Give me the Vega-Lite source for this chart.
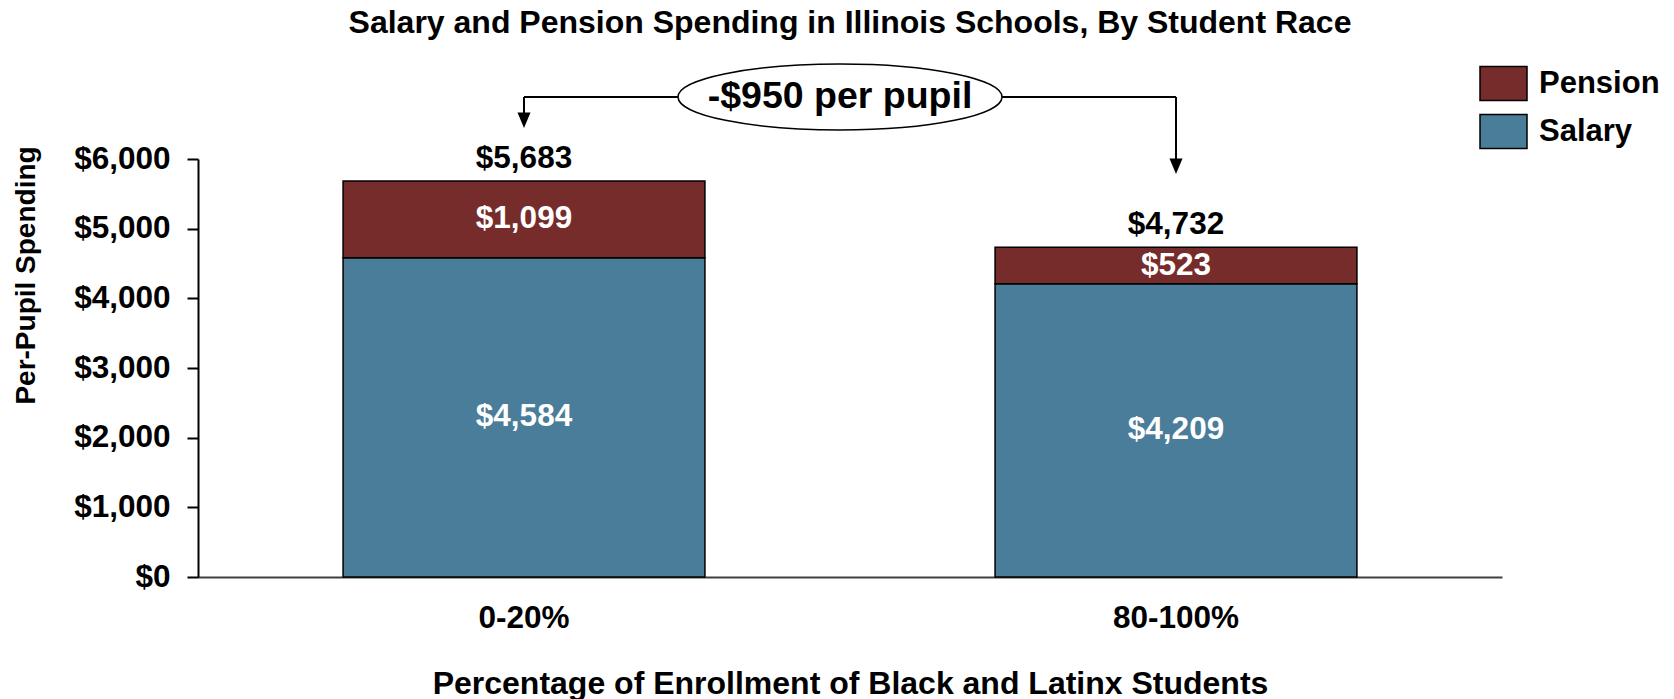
{
  "$schema": "https://vega.github.io/schema/vega-lite/v6.json",
  "width": 1304,
  "height": 418,
  "autosize": {"type": "none"},
  "padding": {"left": 198, "top": 159, "right": 172, "bottom": 122},
  "background": "white",
  "config": {
    "view": {"stroke": null},
    "font": "Liberation Sans",
    "axis": {"labelFont": "Liberation Sans", "titleFont": "Liberation Sans", "labelFontWeight": "bold", "titleFontWeight": "bold", "labelColor": "black", "titleColor": "black"},
    "legend": {"labelFont": "Liberation Sans"}
  },
  "title": {
    "text": "Salary and Pension Spending in Illinois Schools, By Student Race",
    "font": "Liberation Sans",
    "fontSize": 32,
    "fontWeight": "bold",
    "color": "black",
    "anchor": "middle",
    "offset": 19
  },
  "datasets": {
    "spending": [
      {"group": "0-20%", "component": "Salary", "value": 4584},
      {"group": "0-20%", "component": "Pension", "value": 1099},
      {"group": "80-100%", "component": "Salary", "value": 4209},
      {"group": "80-100%", "component": "Pension", "value": 523}
    ],
    "totals": [
      {"group": "0-20%", "total": 5683},
      {"group": "80-100%", "total": 4732}
    ],
    "segments": [
      {"x": 0.5, "x2": 0.7362, "y": 6890, "y2": 6890},
      {"x": 1.2331, "x2": 1.5, "y": 6890, "y2": 6890},
      {"x": 0.5, "x2": 0.5, "y": 6890, "y2": 6600},
      {"x": 1.5, "x2": 1.5, "y": 6890, "y2": 5950}
    ],
    "arrowheads": [
      {"x": 0.5, "y": 6445},
      {"x": 1.5, "y": 5785}
    ],
    "callout": [
      {"x": 0.9847, "y": 6890, "label": "-$950 per pupil"}
    ]
  },
  "resolve": {"scale": {"x": "independent"}},
  "layer": [
    {
      "layer": [
        {
          "data": {"name": "spending"},
          "mark": {"type": "bar", "stroke": "black", "strokeWidth": 1.5},
          "encoding": {
            "x": {
              "field": "group", "type": "nominal",
              "scale": {"paddingInner": 0.445, "paddingOuter": 0.2225},
              "axis": {
                "title": "Percentage of Enrollment of Black and Latinx Students",
                "labelAngle": 0, "ticks": false, "tickSize": 0,
                "domainColor": "#404040", "domainWidth": 2,
                "labelFontSize": 31.5, "labelPadding": 25,
                "titleFontSize": 32, "titleY": 116, "titleBaseline": "alphabetic"
              }
            },
            "y": {
              "field": "value", "type": "quantitative", "stack": "zero",
              "scale": {"domain": [0, 6000], "nice": false},
              "axis": {
                "title": "Per-Pupil Spending",
                "format": "$,.0f",
                "values": [0, 1000, 2000, 3000, 4000, 5000, 6000],
                "grid": false,
                "domainColor": "black", "domainWidth": 2,
                "tickColor": "black", "tickWidth": 2, "tickSize": 11,
                "labelFontSize": 31.5, "labelPadding": 17,
                "titleFontSize": 28, "titleAngle": -90,
                "titleX": -164, "titleY": 116, "titleBaseline": "alphabetic", "titleAlign": "center"
              }
            },
            "color": {
              "field": "component", "type": "nominal",
              "scale": {"domain": ["Pension", "Salary"], "range": ["#772C2C", "#4A7D9A"]},
              "legend": {
                "title": null,
                "orient": "none",
                "legendX": 1281,
                "legendY": -100,
                "symbolType": "M-1,-0.72H1V0.72H-1Z",
                "symbolSize": 2209,
                "symbolStrokeColor": "black",
                "symbolStrokeWidth": 1.5,
                "symbolOpacity": 1,
                "labelFontSize": 31,
                "labelFontWeight": "bold",
                "labelColor": "black",
                "labelOffset": 11,
                "rowPadding": 3
              }
            },
            "order": {"field": "component", "sort": "descending"}
          }
        },
        {
          "data": {"name": "spending"},
          "transform": [
            {"stack": "value", "groupby": ["group"], "sort": [{"field": "component", "order": "descending"}], "as": ["v0", "v1"]},
            {"calculate": "(datum.v0 + datum.v1) / 2", "as": "mid"}
          ],
          "mark": {"type": "text", "color": "white", "fontSize": 31.5, "fontWeight": "bold", "font": "Liberation Sans", "baseline": "middle"},
          "encoding": {
            "x": {"field": "group", "type": "nominal"},
            "y": {"field": "mid", "type": "quantitative"},
            "text": {"field": "value", "type": "quantitative", "format": "$,.0f"}
          }
        },
        {
          "data": {"name": "totals"},
          "mark": {"type": "text", "color": "black", "fontSize": 31.5, "fontWeight": "bold", "font": "Liberation Sans", "baseline": "alphabetic", "dy": -13},
          "encoding": {
            "x": {"field": "group", "type": "nominal"},
            "y": {"field": "total", "type": "quantitative"},
            "text": {"field": "total", "type": "quantitative", "format": "$,.0f"}
          }
        }
      ]
    },
    {
      "layer": [
        {
          "data": {"name": "segments"},
          "mark": {"type": "rule", "color": "black", "strokeWidth": 2},
          "encoding": {
            "x": {"field": "x", "type": "quantitative", "scale": {"domain": [0, 2], "nice": false, "zero": false}, "axis": null},
            "x2": {"field": "x2"},
            "y": {"field": "y", "type": "quantitative"},
            "y2": {"field": "y2"}
          }
        },
        {
          "data": {"name": "arrowheads"},
          "mark": {"type": "point", "shape": "M0,0L-0.5,-1.2L0.5,-1.2Z", "size": 676, "filled": true, "color": "black", "opacity": 1},
          "encoding": {
            "x": {"field": "x", "type": "quantitative"},
            "y": {"field": "y", "type": "quantitative"}
          }
        },
        {
          "data": {"name": "callout"},
          "mark": {"type": "point", "shape": "M-1,0A1,0.2037,0,1,1,1,0A1,0.2037,0,1,1,-1,0Z", "size": 104976, "filled": true, "fill": "white", "stroke": "black", "strokeWidth": 1.5, "opacity": 1},
          "encoding": {
            "x": {"field": "x", "type": "quantitative"},
            "y": {"field": "y", "type": "quantitative"}
          }
        },
        {
          "data": {"name": "callout"},
          "mark": {"type": "text", "color": "black", "fontSize": 37.5, "fontWeight": "bold", "font": "Liberation Sans", "baseline": "middle"},
          "encoding": {
            "x": {"field": "x", "type": "quantitative"},
            "y": {"field": "y", "type": "quantitative"},
            "text": {"field": "label", "type": "nominal"}
          }
        }
      ]
    }
  ]
}
